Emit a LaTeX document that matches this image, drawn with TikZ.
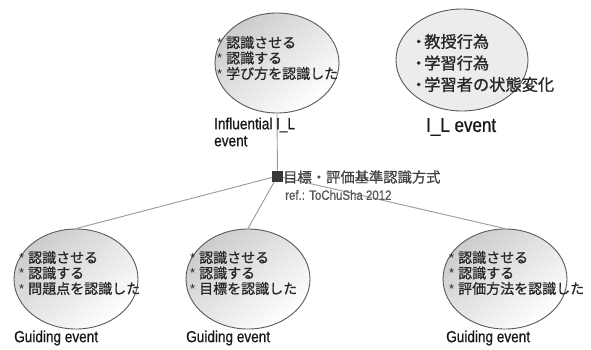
\documentclass[tikz,border=0pt]{standalone}
\usepackage{fontspec}
\setmainfont{Liberation Sans}
\newfontfamily\jp[FakeBold=0.8]{Noto Sans CJK JP}
\newfontfamily\narrow[FakeStretch=0.85,FakeBold=0.8]{Liberation Sans}
\usetikzlibrary{shapes.geometric}
\tikzset{
 ev/.style={ellipse, draw=gray!70!black, line width=0.9pt, minimum width=124pt, minimum height=100pt, inner sep=0pt},
 shd/.style={shading=axis, top color=gray!40, bottom color=white, shading angle=40},
 jtxt/.style={anchor=west, align=left, inner sep=0pt, text=black!85, font=\jp\fontsize{14}{15.5}\selectfont},
 lab/.style={anchor=west, align=left, inner sep=0pt, text=black!90, font=\narrow\fontsize{16}{17}\selectfont},
 conn/.style={draw=gray!80, line width=0.9pt},
}
\newcommand\bul{\makebox[9pt][l]{\raisebox{0.5pt}{\normalfont\fontsize{13}{13}\selectfont *}}}
\begin{document}
\begin{tikzpicture}[x=1pt,y=-1pt]
\useasboundingbox[fill=white] (0,0) rectangle (591,349);
% ellipses
\node[ev, shd] (inf) at (277,63) {};
\node[ev, fill=gray!15, minimum width=132pt, minimum height=102pt] (il) at (462,60) {};
\node[ev, shd] (g1) at (76,279) {};
\node[ev, shd] (g2) at (248,279) {};
\node[ev, shd] (g3) at (505,279) {};
% hub
\node[fill=black!78, minimum size=11pt, inner sep=0pt] (sq) at (277.5,176) {};
% connectors
\draw[conn] (inf.south) -- (sq);
\draw[conn] (sq) -- (g1.north);
\draw[conn] (sq) -- (g2.north);
\draw[conn] (sq) -- (g3.north);
% texts in ellipses
\node[jtxt] (t0) at (217,58) {\bul 認識させる\\\bul 認識する\\\bul 学び方を認識した};
\node[jtxt] (t1) at (19,273) {\bul 認識させる\\\bul 認識する\\\bul 問題点を認識した};
\node[jtxt] (t2) at (190,273) {\bul 認識させる\\\bul 認識する\\\bul 目標を認識した};
\node[jtxt] (t3) at (449,273) {\bul 認識させる\\\bul 認識する\\\bul 評価方法を認識した};
\node[jtxt, font=\jp\fontsize{16.25}{21.5}\selectfont] (t4) at (413,63) {\makebox[11pt]{・}教授行為\\\makebox[11pt]{・}学習行為\\\makebox[11pt]{・}学習者の状態変化};
% labels
\node[lab] (linf) at (214,132) {Influential I\_L\\event};
\node[lab, font=\narrow\fontsize{20}{20}\selectfont] (lil) at (426,127) {I\_L event};
\node[lab] (lg1) at (14,338) {Guiding event};
\node[lab] (lg2) at (186,338) {Guiding event};
\node[lab] (lg3) at (446,338) {Guiding event};
\node[jtxt, font=\jp\fontsize{14.3}{15}\selectfont, text=black!75] (head) at (283,177) {目標・評価基準認識方式};
\node[lab, font=\narrow\fontsize{13.5}{14}\selectfont, text=black!65] (ref) at (285,195) {ref.: ToChuSha 2012};
\end{tikzpicture}
\end{document}
